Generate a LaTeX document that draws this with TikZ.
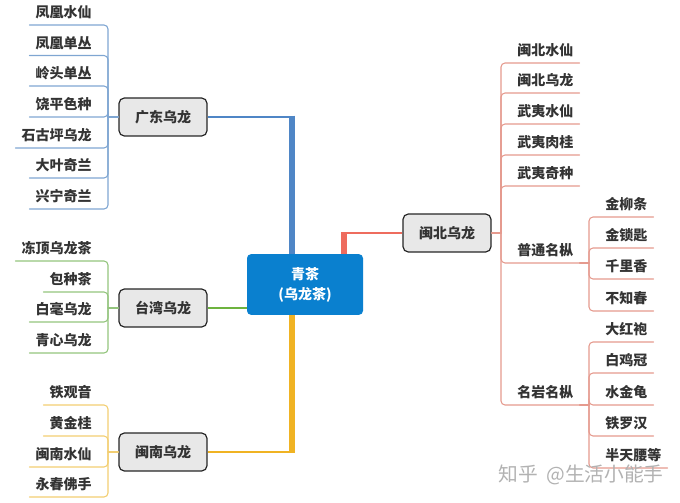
\documentclass[tikz,border=0pt]{standalone}
\usepackage{fontspec}
\setmainfont{Noto Sans CJK SC}
\usetikzlibrary{positioning}

\definecolor{gdline}{HTML}{7FA6D2}
\definecolor{twline}{HTML}{93C47D}
\definecolor{mnline}{HTML}{F2CE72}
\definecolor{mbline}{HTML}{E59A8E}
\definecolor{gdtrunk}{HTML}{4F86C6}
\definecolor{twtrunk}{HTML}{6DB33F}
\definecolor{mntrunk}{HTML}{F0B323}
\definecolor{mbtrunk}{HTML}{EE6C5E}
\definecolor{rootblue}{HTML}{0A80CF}

\tikzset{
  every node/.style={font=\fontsize{10.5}{15}\selectfont\bfseries, text=black!80},
  root/.style={fill=rootblue, rounded corners=3pt, minimum width=87pt, minimum height=45.5pt,
    align=center, text=white, inner sep=0pt},
  tea/.style={draw=black!85, fill=black!9, line width=.9pt, rounded corners=4pt,
    minimum width=66pt, minimum height=28.5pt, inner sep=0pt},
  leaf/.style={inner xsep=4.5pt, inner ysep=0pt, minimum height=18.3pt},
  leafl/.style={leaf, anchor=south east},
  leafr/.style={leaf, anchor=south west},
  branch/.style={line width=.8pt, rounded corners=3pt, line cap=round},
  trunk/.style={line width=3.8pt},
  stem/.style={line width=1.2pt}
}

\begin{document}
\begin{tikzpicture}[x=.75pt, y=-.75pt]
\useasboundingbox (0,0) rectangle (680,502);

% Create the centre and the tea groups
\node [root] (root) at (305,284.5) {青茶\\(乌龙茶)};
\node [tea] (gd) at (163,117) {广东乌龙};
\node [tea] (tw) at (163,308) {台湾乌龙};
\node [tea] (mn) at (163,452) {闽南乌龙};
\node [tea] (mb) at (447,233) {闽北乌龙};

% Elbows and spines
\coordinate (gd-elbow) at (292,117);
\coordinate (mn-elbow) at (292,452);
\coordinate (mb-elbow) at (344,233);
\coordinate (gd-spine) at (108,117);
\coordinate (tw-spine) at (108,308);
\coordinate (mn-spine) at (108,452);
\coordinate (mb-spine) at (501,233);
\coordinate (pt-spine) at (589,263);
\coordinate (my-spine) at (589,405);

% Connect the groups to the centre
\draw [stem, gdtrunk] (gd.east) -- (gd-elbow);
\draw [trunk, gdtrunk] (292,115.6) -- (root.north -| gd-elbow);
\draw [stem, twtrunk] (tw.east) -- (root.west |- tw);
\draw [stem, mntrunk] (mn.east) -- (mn-elbow);
\draw [trunk, mntrunk] (root.south -| mn-elbow) -- (292,453.4);
\draw [line width=2pt, mbtrunk] (mb.west) -- (mb-elbow);
\draw [trunk, mbtrunk] (344,232) -- (root.north -| mb-elbow);

% Guangdong leaves
\foreach \m/\y [count=\i] in {凤凰水仙/25, 凤凰单丛/55.5, 岭头单丛/86, 饶平色种/117, 石古坪乌龙/148, 大叶奇兰/178, 兴宁奇兰/209} {
  \node [leafl] (gd-\i) at (98,\y) {\m};
  \draw [branch, gdline] (gd-\i.south west) -| (gd-spine);
}
\draw [branch, gdline] (gd-spine) -- (gd.west);

% Taiwan leaves
\foreach \m/\y [count=\i] in {冻顶乌龙茶/261, 包种茶/292, 白毫乌龙/322, 青心乌龙/353} {
  \node [leafl] (tw-\i) at (98,\y) {\m};
  \draw [branch, twline] (tw-\i.south west) -| (tw-spine);
}
\draw [branch, twline] (tw-spine) -- (tw.west);

% Minnan leaves
\foreach \m/\y [count=\i] in {铁观音/405, 黄金桂/436, 闽南水仙/467, 永春佛手/497} {
  \node [leafl] (mn-\i) at (98,\y) {\m};
  \draw [branch, mnline] (mn-\i.south west) -| (mn-spine);
}
\draw [branch, mnline] (mn-spine) -- (mn.west);

% Minbei leaves
\foreach \m/\y [count=\i] in {闽北水仙/63, 闽北乌龙/93, 武夷水仙/124, 武夷肉桂/155, 武夷奇种/186, 普通名枞/263, 名岩名枞/405} {
  \node [leafr] (mb-\i) at (511,\y) {\m};
  \draw [branch, mbline] (mb-\i.south east) -| (mb-spine);
}
\draw [branch, mbline] (mb-spine) -- (mb.east);

% Second level under the two named groups
\foreach \m/\y [count=\i] in {金柳条/217, 金锁匙/248, 千里香/279, 不知春/311} {
  \node [leafr] (pt-\i) at (599,\y) {\m};
  \draw [branch, mbline] (pt-\i.south east) -| (pt-spine);
}
\draw [branch, mbline] (pt-spine) -- (mb-6.south east);
\foreach \m/\y [count=\i] in {大红袍/342, 白鸡冠/373, 水金龟/405, 铁罗汉/436, 半天腰等/468} {
  \node [leafr] (my-\i) at (599,\y) {\m};
  \draw [branch, mbline] (my-\i.south east) -| (my-spine);
}
\draw [branch, mbline] (my-spine) -- (mb-7.south east);

% Watermark
\node [font=\fontsize{14.8}{16}\selectfont, text=black!30, anchor=east, inner sep=0pt] (mark) at (664,475) {知乎\hspace{3pt} @生活小能手};

\end{tikzpicture}
\end{document}
